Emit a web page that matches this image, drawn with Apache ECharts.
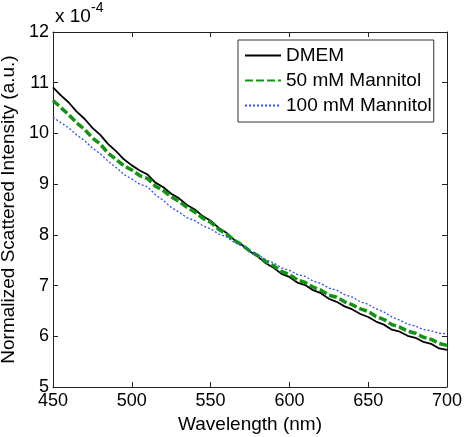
<!DOCTYPE html>
<html>
<head>
<meta charset="utf-8">
<script src="https://cdn.jsdelivr.net/npm/echarts@6/dist/echarts.min.js"></script>
<style>
html,body{margin:0;padding:0;background:#fff;}
#chart{width:465px;height:437px;}
</style>
</head>
<body>
<div id="chart"></div>
<script>
var wavelengths = [450,455,460,465,470,475,480,485,490,495,500,505,510,515,520,525,530,535,540,545,550,555,560,565,570,575,580,585,590,595,600,605,610,615,620,625,630,635,640,645,650,655,660,665,670,675,680,685,690,695,700];
var dmem = [10.91,10.75,10.61,10.43,10.29,10.11,9.97,9.79,9.65,9.49,9.37,9.27,9.19,9.03,8.94,8.81,8.72,8.59,8.50,8.37,8.28,8.14,8.04,7.90,7.80,7.67,7.57,7.44,7.35,7.23,7.17,7.06,7.01,6.91,6.85,6.74,6.68,6.59,6.53,6.44,6.38,6.29,6.23,6.13,6.09,6.01,5.97,5.89,5.85,5.76,5.73];
var mannitol50 = [10.65,10.51,10.37,10.21,10.08,9.91,9.79,9.61,9.49,9.36,9.28,9.17,9.11,8.96,8.87,8.75,8.66,8.54,8.45,8.33,8.25,8.11,8.02,7.89,7.80,7.68,7.59,7.47,7.39,7.28,7.22,7.11,7.06,6.97,6.91,6.81,6.77,6.68,6.62,6.54,6.49,6.39,6.33,6.23,6.18,6.10,6.06,5.98,5.94,5.86,5.82];
var mannitol100 = [10.32,10.21,10.11,9.97,9.86,9.71,9.60,9.45,9.33,9.19,9.10,9.00,8.95,8.79,8.68,8.54,8.45,8.34,8.28,8.18,8.12,8.02,7.96,7.85,7.78,7.68,7.61,7.51,7.45,7.35,7.30,7.22,7.18,7.09,7.04,6.95,6.91,6.82,6.77,6.68,6.63,6.54,6.48,6.38,6.32,6.24,6.20,6.13,6.11,6.06,6.05];
var xTicks = [450,500,550,600,650,700];
var yTicks = [5,6,7,8,9,10,11,12];
var seriesNames = ['DMEM','50 mM Mannitol','100 mM Mannitol'];

function pairs(arr){ return wavelengths.map(function(w,i){ return [w, arr[i]]; }); }

var FONT = 'Liberation Sans, Arial, sans-serif';
var chart = echarts.init(document.getElementById('chart'), null, {renderer:'canvas'});
var grid = {left:53, top:32, width:394, height:355, containLabel:false, outerBoundsMode:'none'};
var axisBase = {
  axisLine:{show:true, onZero:false, lineStyle:{color:'#222', width:1}},
  axisTick:{show:true, inside:true, length:5, lineStyle:{color:'#222'}},
  splitLine:{show:false}
};
chart.setOption({
  animation:false,
  backgroundColor:'#fff',
  grid:grid,
  legend:{
    show:true,
    orient:'vertical', left:238, top:40,
    data:seriesNames,
    backgroundColor:'#fff',
    borderColor:'#333', borderWidth:1, borderRadius:0,
    padding:[6,2,7,6],
    itemWidth:36, itemHeight:14, itemGap:6,
    itemStyle:{opacity:0},
    textStyle:{fontFamily:FONT, fontSize:19, color:'#000'}
  },
  xAxis:[
    Object.assign({}, axisBase, {type:'value', min:450, max:700, interval:50, position:'bottom',
      name:'Wavelength (nm)', nameLocation:'middle', nameGap:24,
      nameTextStyle:{fontFamily:FONT, fontSize:19, color:'#000'},
      axisLabel:{fontFamily:FONT, fontSize:18, color:'#000', margin:5}}),
    Object.assign({}, axisBase, {type:'value', min:450, max:700, interval:50, position:'top',
      axisLabel:{show:false}})
  ],
  yAxis:[
    Object.assign({}, axisBase, {type:'value', min:5, max:12, interval:1, position:'left',
      name:'Normalized Scattered Intensity (a.u.)', nameLocation:'middle', nameGap:30,
      nameTextStyle:{fontFamily:FONT, fontSize:19, color:'#000'},
      axisLabel:{fontFamily:FONT, fontSize:18, color:'#000', margin:4}}),
    Object.assign({}, axisBase, {type:'value', min:5, max:12, interval:1, position:'right',
      axisLabel:{show:false}})
  ],
  graphic:[
    {type:'text', left:55, top:7, style:{text:'x 10', font:'19px '+FONT, fill:'#000'}},
    {type:'text', left:91, top:1, style:{text:'-4', font:'14px '+FONT, fill:'#000'}}
  ],
  series:[
    {name:seriesNames[0], type:'line', data:pairs(dmem), symbol:'none', showSymbol:false, z:3,
      lineStyle:{color:'#000000', width:1.8, type:'solid'}, itemStyle:{color:'#000000'}},
    {name:seriesNames[1], type:'line', data:pairs(mannitol50), symbol:'none', showSymbol:false, z:4,
      lineStyle:{color:'#129412', width:3.5, type:[8,3]}, itemStyle:{color:'#129412'}},
    {name:seriesNames[2], type:'line', data:pairs(mannitol100), symbol:'none', showSymbol:false, z:5,
      lineStyle:{color:'#3050e8', width:1.3, type:[2,2]}, itemStyle:{color:'#3050e8'}}
  ]
});
</script>
</body>
</html>
